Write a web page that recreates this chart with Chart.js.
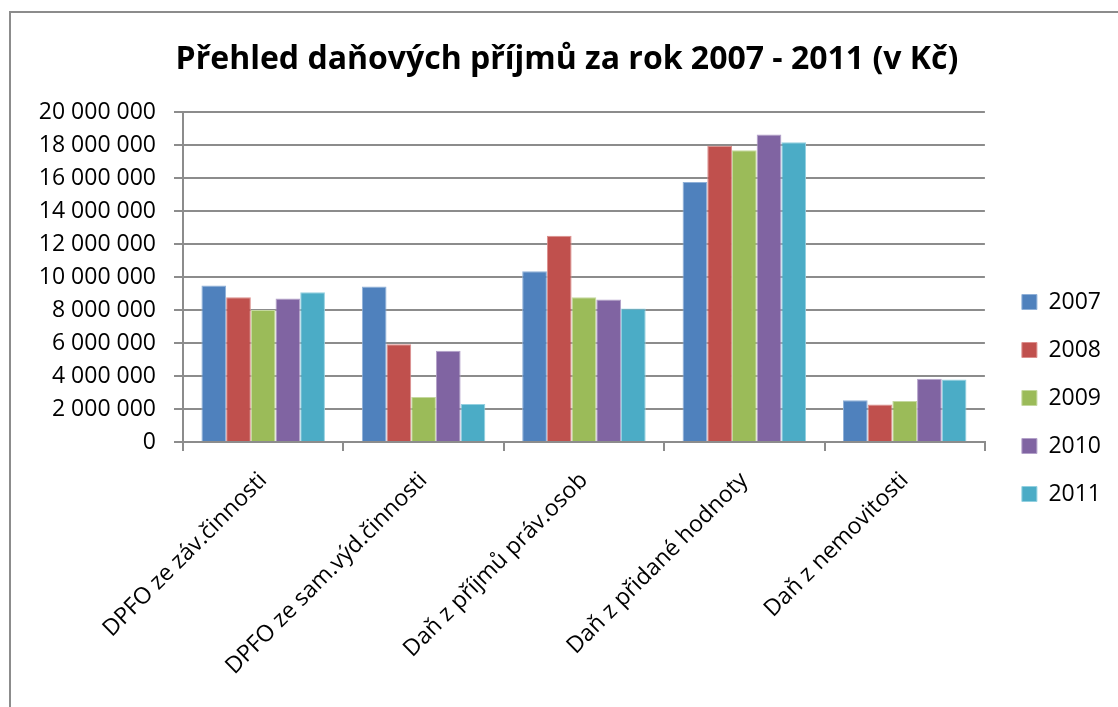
<!DOCTYPE html>
<html>
<head>
<meta charset="utf-8">
<script src="https://cdn.jsdelivr.net/npm/chart.js@4"></script>
<style>
  html, body { margin: 0; padding: 0; background: #fff; }
  #wrap { position: relative; width: 1118px; height: 707px; }
  #frame { position: absolute; left: 9px; top: 11px; right: -5px; bottom: -5px; border-top: 2px solid #8c8c8c; border-left: 2px solid #8c8c8c; pointer-events: none; }
  canvas { position: absolute; left: 0; top: 0; }
</style>
</head>
<body>
<div id="wrap">
  <canvas id="c" width="1118" height="707"></canvas>
  <div id="frame"></div>
</div>
<script>
const categories = [
  "DPFO ze záv.činnosti",
  "DPFO ze sam.výd.činnosti",
  "Daň z příjmů práv.osob",
  "Daň z přidané hodnoty",
  "Daň z nemovitosti"
];
const seriesNames = ["2007", "2008", "2009", "2010", "2011"];
const values2007 = [9500000, 9440000, 10360000, 15770000, 2530000];
const values2008 = [8780000, 5930000, 12510000, 17980000, 2270000];
const values2009 = [8010000, 2730000, 8780000, 17710000, 2490000];
const values2010 = [8700000, 5540000, 8640000, 18660000, 3840000];
const values2011 = [9080000, 2310000, 8100000, 18190000, 3800000];
const yTicks = [0, 2000000, 4000000, 6000000, 8000000, 10000000, 12000000, 14000000, 16000000, 18000000, 20000000];
const titleText = "Přehled daňových příjmů za rok 2007 - 2011 (v Kč)";

const colors = ["#4F81BD", "#C0504D", "#9BBB59", "#8064A2", "#4BACC6"];
const edges = ["#8fb0d8", "#dc8e8c", "#c4d89e", "#b3a1c9", "#93d0e0"];
const allValues = [values2007, values2008, values2009, values2010, values2011];

const FONT = "'Open Sans', 'Noto Sans', sans-serif";
const GRID = "#8c8c8c";
const PAD_L = 23, PAD_R = 7, PAD_B = 22;

function fmt(v) {
  return String(v).replace(/\B(?=(\d{3})+(?!\d))/g, " ");
}

new Chart(document.getElementById("c"), {
  type: "bar",
  data: {
    labels: categories,
    datasets: seriesNames.map((n, i) => ({
      label: n,
      data: allValues[i],
      backgroundColor: colors[i],
      borderColor: edges[i],
      borderWidth: 1,
      categoryPercentage: 0.77,
      barPercentage: 1.0
    }))
  },
  options: {
    responsive: false,
    animation: false,
    devicePixelRatio: 1,
    layout: { padding: { left: PAD_L, right: PAD_R, top: 0, bottom: PAD_B } },
    plugins: {
      title: {
        display: true,
        text: titleText,
        color: "#000",
        font: { family: FONT, size: 32, weight: "bold", lineHeight: 1.2 },
        padding: { top: 41, bottom: 33 }
      },
      legend: {
        position: "right",
        title: { display: true, text: " ", font: { size: 10, lineHeight: 1 }, padding: { top: 101, bottom: 0 } },
        labels: {
          boxWidth: 15,
          boxHeight: 15,
          padding: 25,
          color: "#000",
          font: { family: FONT, size: 23 }
        }
      },
      tooltip: { enabled: false }
    },
    scales: {
      x: {
        grid: { offset: true, drawOnChartArea: false, drawTicks: true, tickLength: 9, color: GRID, lineWidth: 2 },
        border: { display: true, color: GRID, width: 2 },
        ticks: {
          minRotation: 45, maxRotation: 45, padding: 16,
          color: "#000",
          font: { family: FONT, size: 23 }
        },
        afterFit: s => { s.height = 707 - PAD_B - 442; }
      },
      y: {
        min: 0, max: 20000000,
        afterBuildTicks: s => { s.ticks = yTicks.map(v => ({ value: v })); },
        grid: { color: GRID, lineWidth: 2, tickLength: 9, drawTicks: true },
        border: { display: true, color: GRID, width: 2 },
        ticks: {
          padding: 18,
          color: "#000",
          font: { family: FONT, size: 23 },
          callback: v => fmt(v)
        },
        afterFit: s => { s.width = 183 - PAD_L; }
      },
      spacer: {
        position: "right",
        display: true,
        grid: { display: false },
        border: { display: false },
        ticks: { display: false },
        afterFit: s => { s.width = 12; }
      }
    }
  }
});
</script>
</body>
</html>
